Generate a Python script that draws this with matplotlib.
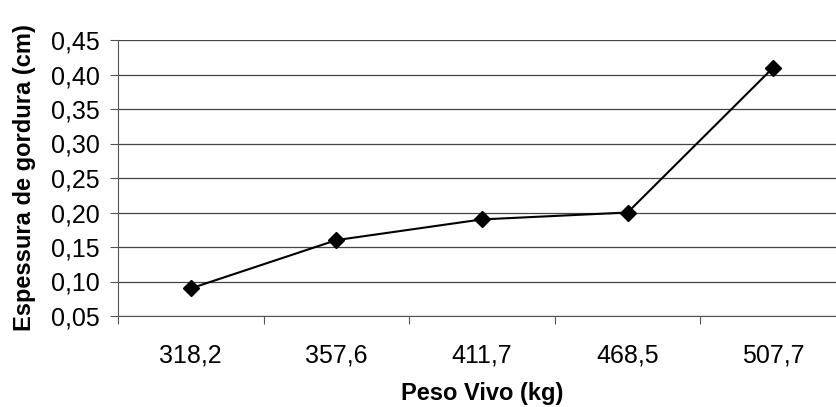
import matplotlib
matplotlib.use("Agg")
import matplotlib.pyplot as plt
from matplotlib.ticker import FuncFormatter

# data
peso_vivo = ["318,2", "357,6", "411,7", "468,5", "507,7"]
espessura = [0.09, 0.16, 0.19, 0.20, 0.41]
y_ticks = [0.05, 0.10, 0.15, 0.20, 0.25, 0.30, 0.35, 0.40, 0.45]

plt.rcParams["font.family"] = ["Liberation Sans", "DejaVu Sans"]

fig = plt.figure(figsize=(8.36, 4.07), dpi=100)
# right edge of the plot area runs past the image edge in the reference
ax = fig.add_axes([118 / 836, (407 - 316) / 407, (846 - 118) / 836, (316 - 40) / 407])

x = list(range(len(peso_vivo)))
ax.plot(x, espessura, color="black", linewidth=1.5, marker="D", markersize=8,
        markerfacecolor="black", markeredgecolor="black", zorder=3)

ax.set_ylim(0.05, 0.45)
ax.set_yticks(y_ticks)
ax.yaxis.set_major_formatter(FuncFormatter(lambda v, _: f"{v:.2f}".replace(".", ",")))
ax.set_xlim(-0.5, len(peso_vivo) - 0.5)
ax.set_xticks([i - 0.5 for i in range(len(peso_vivo) + 1)])
ax.set_xticklabels([])
ax.set_xticks(x, minor=True)
ax.set_xticklabels(peso_vivo, minor=True)

ax.grid(axis="y", color="#444444", linewidth=0.9, zorder=0)
ax.set_axisbelow(True)
for side in ("top", "right"):
    ax.spines[side].set_visible(False)
ax.spines["left"].set_color("#555555")
ax.spines["bottom"].set_color("#555555")

ax.tick_params(axis="y", which="major", length=6, color="#555555", labelsize=18, pad=7)
ax.tick_params(axis="x", which="major", length=6, color="#555555", direction="out")
ax.tick_params(axis="x", which="minor", length=0, labelsize=18, pad=20)

ax.set_xlabel("Peso Vivo (kg)", fontsize=17, fontweight="bold", labelpad=10)
ax.set_ylabel("Espessura de gordura (cm)", fontsize=17, fontweight="bold", labelpad=11)

fig.savefig("out.png", dpi=100)
